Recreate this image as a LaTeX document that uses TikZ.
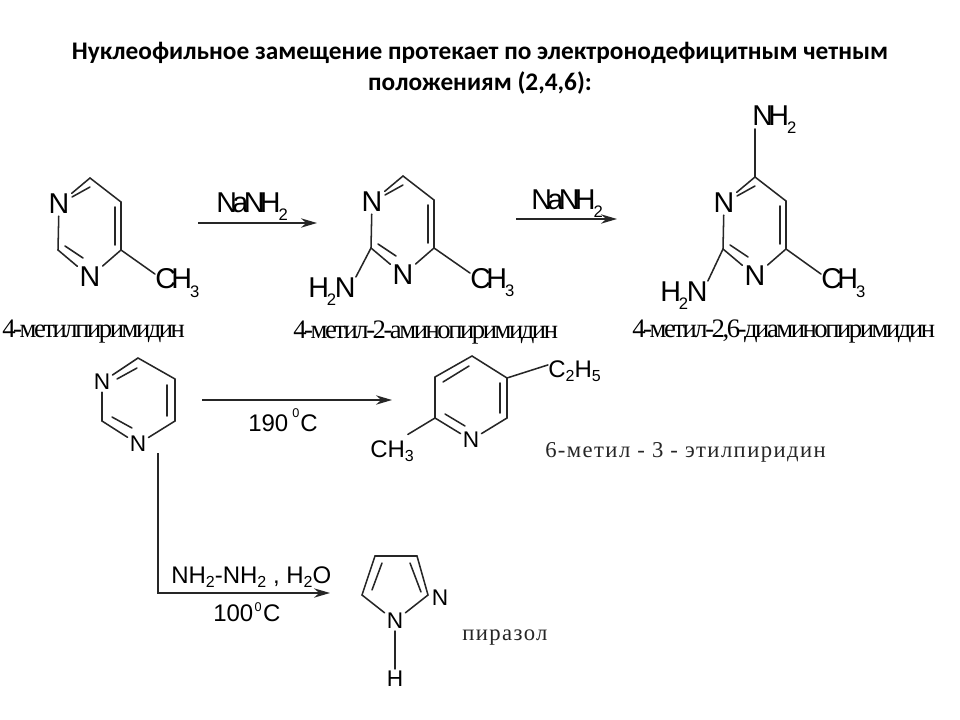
\documentclass[tikz,border=0pt]{standalone}
\usepackage{fontspec}
\usetikzlibrary{arrows.meta}
\setmainfont{Liberation Sans}
\newfontfamily\titlefont{Carlito}
\newfontfamily\tightsans[LetterSpace=-16]{Liberation Sans}
\newfontfamily\tightserif[LetterSpace=-9.2]{Liberation Serif}
\newfontfamily\plainserif[LetterSpace=6.2]{Liberation Serif}
\newcommand\lowA[1]{\kern-1.5pt\raisebox{-6pt}{\fontsize{12.5}{12.5}\selectfont #1}}
\newcommand\lowAm[1]{\kern-1.5pt\raisebox{-6pt}{\fontsize{12.5}{12.5}\selectfont #1}\kern-1pt}
\newcommand\lowB[1]{\raisebox{-3.5pt}{\fontsize{12}{12}\selectfont #1}}
\newcommand\supB[3]{\kern#2\raisebox{#1}{\fontsize{9.5}{9.5}\selectfont 0}\kern#3}
\tikzset{
  x=0.75pt,y=-0.75pt,
  bond/.style={draw=black!85,line width=1.15pt,line cap=round},
  arrowline/.style={draw=black!85,line width=1.15pt,-{Stealth[length=12pt,width=7pt]}},
  atom/.style={inner sep=1.5pt,font=\fontsize{21.5}{21.5}\selectfont\tightsans},
  bigtext/.style={inner sep=0pt,font=\fontsize{21.5}{21.5}\selectfont\tightsans},
  atomsm/.style={inner sep=1.5pt,font=\fontsize{17}{17}\selectfont},
  smalltext/.style={inner sep=0pt,font=\fontsize{18}{18}\selectfont},
  namebig/.style={inner sep=0pt,anchor=base west,font=\fontsize{20}{20}\selectfont\tightserif},
  nameplain/.style={inner sep=0pt,anchor=base west,text=black!85,font=\fontsize{17}{17}\selectfont\plainserif},
  titletext/.style={inner sep=0pt,align=center,font=\fontsize{19}{23.5}\selectfont\titlefont\bfseries}
}
\newcommand\pyrimring[3]{%
\begin{scope}[shift={(#2,#3)}]
  \node[atom] (#1n1) at (59,204) {N};
  \node[atom] (#1n3) at (90,277) {N};
  \coordinate (#1c6) at (90,178);
  \coordinate (#1c5) at (121,202);
  \coordinate (#1c4) at (121,250);
  \coordinate (#1c2) at (58,250);
  \coordinate (#1ia) at (72,197);
  \coordinate (#1ib) at (90,187);
  \coordinate (#1ic) at (115,207);
  \coordinate (#1id) at (115,245);
  \coordinate (#1ie) at (65,246);
  \coordinate (#1if) at (83,258);
  \draw[bond] (#1n1) -- (#1c6) -- (#1c5) -- (#1c4) -- (#1n3) -- (#1c2) -- (#1n1);
  \draw[bond] (#1ia) -- (#1ib);
  \draw[bond] (#1ic) -- (#1id);
  \draw[bond] (#1ie) -- (#1if);
\end{scope}}
\begin{document}
\begin{tikzpicture}
\useasboundingbox (0,0) rectangle (960,720);
\fill[white] (0,0) rectangle (960,720);
\node[titletext] (title) at (480,68) {Нуклеофильное замещение протекает по электронодефицитным четным\\положениям (2,4,6):};

% molecule 1
\pyrimring{a}{0}{0}
\node[bigtext,anchor=base west] (ach3) at (155,289) {CH\lowA{3}};
\draw[bond] (ac4) -- (ach3.158);
\node[namebig] (aname) at (2,337) {4-метилпиримидин};

% arrow 1
\coordinate (ar1s) at (198,223);
\coordinate (ar1e) at (317,223);
\draw[arrowline] (ar1s) -- (ar1e);
\node[bigtext,anchor=base west] (ar1t) at (216,213) {NaNH\lowA{2}};

% molecule 2
\pyrimring{b}{313}{-2}
\node[bigtext,anchor=base west] (bch3) at (470,288) {CH\lowA{3}};
\draw[bond] (bc4) -- (bch3.158);
\node[bigtext,anchor=base west] (bnh2) at (308,297) {H\lowAm{2}N};
\draw[bond] (bc2) -- (bnh2.north east);
\node[namebig] (bname) at (293,339) {4-метил-2-аминопиримидин};

% arrow 2
\coordinate (ar2s) at (516,219);
\coordinate (ar2e) at (617,219);
\draw[arrowline] (ar2s) -- (ar2e);
\node[bigtext,anchor=base west] (ar2t) at (531,210) {NaNH\lowA{2}};

% molecule 3
\pyrimring{c}{665}{-1}
\node[bigtext,anchor=base west] (cnh2) at (752,126) {NH\lowA{2}};
\draw[bond,shorten >=2.25pt] (cc6) -- (cc6 |- cnh2.base);
\node[bigtext,anchor=base west] (cch3) at (821,289) {CH\lowA{3}};
\draw[bond] (cc4) -- (cch3.158);
\node[bigtext,anchor=base west] (cnh2b) at (660,301) {H\lowAm{2}N};
\draw[bond] (cc2) -- (cnh2b.north east);
\node[namebig] (cname) at (632,337) {4-метил-2,6-диаминопиримидин};

% pyrimidine
\node[atomsm] (dn1) at (102,382) {N};
\node[atomsm] (dn3) at (138,444) {N};
\coordinate (dc6) at (138,358);
\coordinate (dc5) at (175,379);
\coordinate (dc4) at (175,421);
\coordinate (dc2) at (102,421);
\coordinate (dia) at (117,379);
\coordinate (dib) at (137,368);
\coordinate (dic) at (167,385);
\coordinate (did) at (167,416);
\coordinate (die) at (112,417);
\coordinate (dif) at (132,428);
\draw[bond] (dn1) -- (dc6) -- (dc5) -- (dc4) -- (dn3) -- (dc2) -- (dn1);
\draw[bond] (dia) -- (dib);
\draw[bond] (dic) -- (did);
\draw[bond] (die) -- (dif);

% arrow 3
\coordinate (ar3s) at (202,400);
\coordinate (ar3e) at (392,400);
\draw[arrowline] (ar3s) -- (ar3e);
\node[smalltext,anchor=base west] (ar3t) at (248,431) {190\supB{10pt}{3pt}{0.8pt}C};

% pyridine
\node[atomsm] (en) at (471,440) {N};
\coordinate (ec4) at (472,356);
\coordinate (ec3) at (507,378);
\coordinate (ec2) at (507,418);
\coordinate (ec6) at (435,418);
\coordinate (ec5) at (435,377);
\coordinate (eia) at (443,382);
\coordinate (eib) at (469,366);
\coordinate (eic) at (500,383);
\coordinate (eid) at (500,413);
\coordinate (eie) at (445,414);
\coordinate (eif) at (465,426);
\draw[bond] (en) -- (ec2) -- (ec3) -- (ec4) -- (ec5) -- (ec6) -- (en);
\draw[bond] (eia) -- (eib);
\draw[bond] (eic) -- (eid);
\draw[bond] (eie) -- (eif);
\node[smalltext,anchor=base west] (ec2h5) at (548,377) {C\lowB{2}H\lowB{5}};
\draw[bond] (ec3) -- (ec2h5.167);
\node[smalltext,anchor=base west] (ech3) at (370,457) {CH\lowB{3}};
\draw[bond,shorten >=8pt] (ec6) -- (ech3.59);
\node[nameplain] (ename) at (545,457) {6-метил - 3 - этилпиридин};

% arrow 4 (elbow)
\coordinate (ar4s) at (158,453);
\coordinate (ar4m) at (158,593);
\coordinate (ar4e) at (330,593);
\draw[arrowline] (ar4s) -- (ar4m) -- (ar4e);
\node[smalltext,anchor=base west] (ar4t) at (171,583) {NH\lowB{2}-NH\lowB{2} , H\lowB{2}O};
\node[smalltext,anchor=base west] (ar4b) at (213,621) {100\supB{7pt}{1pt}{1pt}C};

% pyrazole
\node[atomsm] (fn2) at (440,598) {N};
\node[atomsm] (fn1) at (395,621) {N};
\node[atomsm] (fh) at (395,679) {H};
\coordinate (fa) at (375,556);
\coordinate (fb) at (417,556);
\coordinate (fc) at (428,595);
\coordinate (fd) at (362,595);
\coordinate (fia) at (382,563);
\coordinate (fib) at (372,590);
\coordinate (fic) at (410,563);
\coordinate (fid) at (421,592);
\draw[bond] (fn1) -- (fd) -- (fa) -- (fb) -- (fc) -- (fn1);
\draw[bond] (fn1) -- (fh);
\draw[bond] (fia) -- (fib);
\draw[bond] (fic) -- (fid);
\node[nameplain] (fname) at (462,640) {пиразол};
\end{tikzpicture}
\end{document}
